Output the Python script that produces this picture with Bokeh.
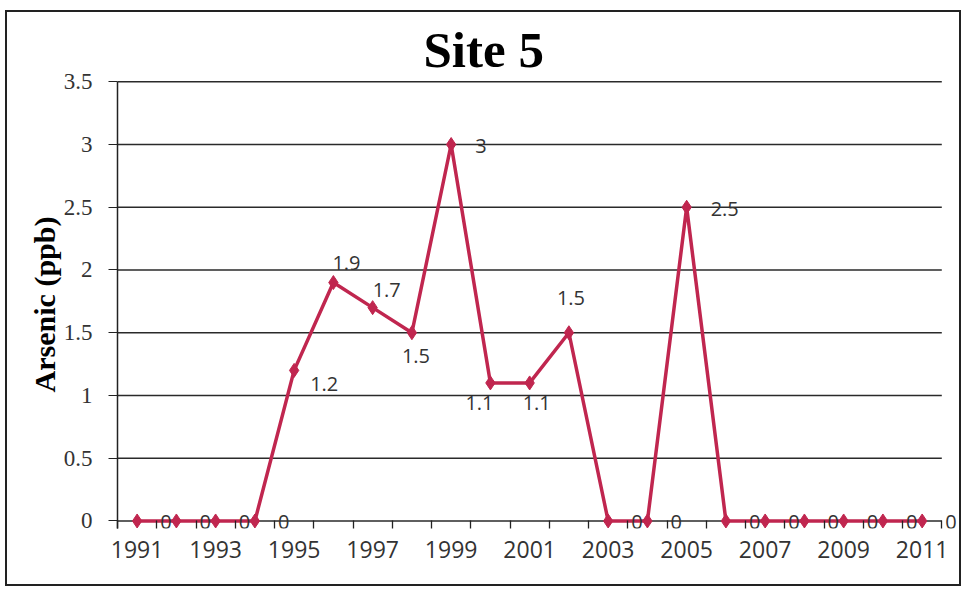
from bokeh.plotting import figure
from bokeh.models import ColumnDataSource, Range1d, FixedTicker, Title, LabelSet
from bokeh.core.properties import value
from bokeh.embed import file_html
from bokeh.resources import INLINE

# ---- data ----
years = [1991, 1992, 1993, 1994, 1995, 1996, 1997, 1998, 1999, 2000, 2001,
         2002, 2003, 2004, 2005, 2006, 2007, 2008, 2009, 2010, 2011]
arsenic = [0, 0, 0, 0, 1.2, 1.9, 1.7, 1.5, 3, 1.1, 1.1,
           1.5, 0, 0, 2.5, 0, 0, 0, 0, 0, 0]
x_tick_years = [1991, 1993, 1995, 1997, 1999, 2001, 2003, 2005, 2007, 2009, 2011]
y_tick_values = [0, 0.5, 1, 1.5, 2, 2.5, 3, 3.5]
y_tick_labels = ["0", "0.5", "1", "1.5", "2", "2.5", "3", "3.5"]
title_text = "Site 5"
y_label = "Arsenic (ppb)"

# ---- label placement (style: pixel offsets of each data label, +dy = down) ----
label_dx = [23, 23, 23, 23, 16, -1, 0, -10, 24, -25, -7,
            -12, 23, 23, 24, 23, 23, 23, 23, 23, 23]
label_dy = [1, 1, 1, 1, 14, -20, -18, 23, 1, 20, 20,
            -35, 1, 1, 2, 1, 1, 1, 1, 1, 1]

LINE = "#C0264F"
AX = "#222222"

src = ColumnDataSource(dict(
    x=years, y=arsenic,
    lab=[f"{v:g}" for v in arsenic],
    dx=label_dx, ndy=[-d for d in label_dy],
))

# padding so markers/labels at the edges are not clipped by the frame
pad_y = 0.06
pad_top = 0.01
pad_x = 0.4
x_lo, x_hi = years[0] - 0.5, years[-1] + 0.5

p = figure(width=956, height=576, output_backend="svg", toolbar_location=None,
           x_range=Range1d(x_lo, x_hi + pad_x),
           y_range=Range1d(y_tick_values[0] - pad_y, y_tick_values[-1] + pad_top),
           min_border_left=110, min_border_right=6, min_border_top=68,
           min_border_bottom=60)
p.styles = {"border": "2px solid #222", "box-sizing": "border-box",
            "margin-left": "5px", "margin-top": "10px"}
p.outline_line_color = None
p.background_fill_color = "white"
p.border_fill_color = "white"

p.title = Title(text=title_text, align="left", offset=306,
                text_font="Liberation Serif", text_font_style="bold",
                text_font_size="51px", text_color="black", standoff=6)

# horizontal gridlines over the category span (zero line doubles as axis line)
p.xgrid.grid_line_color = None
p.ygrid.grid_line_color = None
p.segment(x0=[x_lo] * len(y_tick_values), x1=[x_hi] * len(y_tick_values),
          y0=y_tick_values, y1=y_tick_values, line_color="#2a2a2a", line_width=1.6)

# y axis
p.yaxis.ticker = FixedTicker(ticks=y_tick_values)
p.yaxis.bounds = (y_tick_values[0] - pad_y, y_tick_values[-1])
p.yaxis.major_label_overrides = {v: l for v, l in zip(y_tick_values, y_tick_labels)}
p.yaxis.major_tick_out = 9
p.yaxis.major_tick_in = 0
p.yaxis.minor_tick_line_color = None
p.yaxis.major_tick_line_color = AX
p.yaxis.axis_line_color = AX
p.yaxis.axis_line_width = 1.5
p.yaxis.major_label_text_font = "Liberation Serif"
p.yaxis.major_label_text_font_size = "23px"
p.yaxis.major_label_text_color = "#333"
p.yaxis.major_label_standoff = 16
p.yaxis.axis_label = y_label
p.yaxis.axis_label_text_font = "Liberation Serif"
p.yaxis.axis_label_text_font_style = "bold"
p.yaxis.axis_label_text_font_size = "30px"
p.yaxis.axis_label_text_color = "black"
p.yaxis.axis_label_standoff = 0

# x axis (ticks reach from frame bottom up to zero)
minor = [y - 0.5 for y in years] + [years[-1] + 0.5]
p.xaxis.ticker = FixedTicker(ticks=x_tick_years, minor_ticks=minor)
p.xaxis.major_label_overrides = {y: str(y) for y in x_tick_years}
p.xaxis.major_tick_out = 0
p.xaxis.major_tick_in = 0
p.xaxis.minor_tick_out = 0
p.xaxis.minor_tick_in = 8
p.xaxis.minor_tick_line_color = AX
p.xaxis.minor_tick_line_width = 1.3
p.xaxis.axis_line_color = None
p.xaxis.major_label_text_font = "Open Sans"
p.xaxis.major_label_text_font_size = "23px"
p.xaxis.major_label_text_color = "#333"
p.xaxis.major_label_standoff = 12

# series
p.line("x", "y", source=src, line_color=LINE, line_width=3.5)
p.scatter("x", "y", source=src, marker="diamond", size=14,
          fill_color=LINE, line_color=LINE)
p.add_layout(LabelSet(x="x", y="y", text="lab", source=src,
                      x_offset="dx", y_offset="ndy",
                      text_font=value("Open Sans"), text_font_size=value("20px"),
                      text_color=value("#333"), text_align=value("left"),
                      text_baseline=value("middle")))

open("out.html", "w").write(file_html(p, INLINE))
